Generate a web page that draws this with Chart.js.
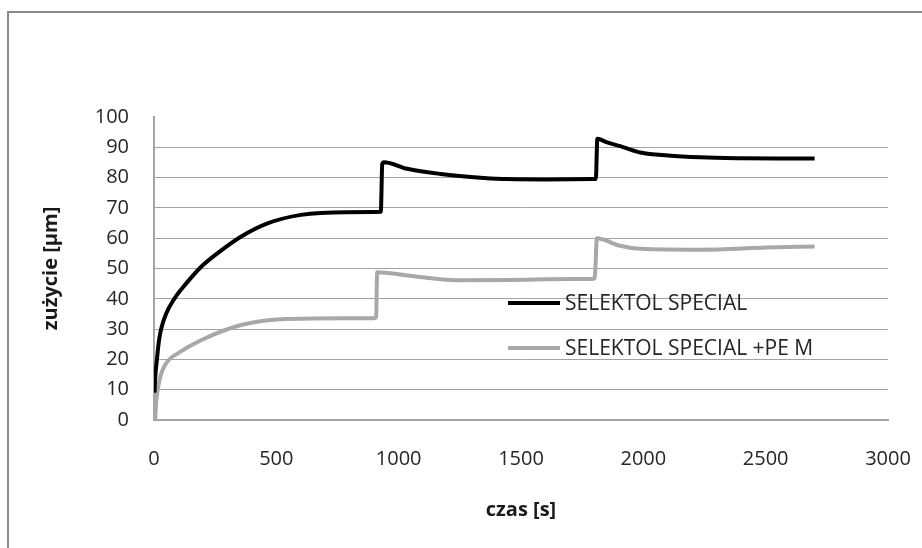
<!DOCTYPE html>
<html>
<head>
<meta charset="utf-8">
<script src="https://cdn.jsdelivr.net/npm/chart.js@4/dist/chart.umd.min.js"></script>
<style>
  body { margin: 0; background: #fff; }
  #wrap { position: relative; width: 922px; height: 548px; overflow: hidden; }
  #frame { position: absolute; left: 7px; top: 11px; width: 1000px; height: 700px; border: 2px solid #8a8a8a; pointer-events: none; }
</style>
</head>
<body>
<div id="wrap">
  <canvas id="myChart" width="922" height="548"></canvas>
  <div id="frame"></div>
</div>
<script>
// czas [s] vs zużycie [µm]
const selektolX = [2, 5, 12, 20, 29, 49, 83, 131, 192, 267, 355, 464, 600, 784, 927,
    933, 940, 1035, 1171, 1348, 1444, 1600, 1797, 1806,
    1812, 1852, 1920, 1988, 2100, 2233, 2400, 2550, 2700];
const selektolY = [9, 14, 20, 26, 30, 35, 40, 45, 50.5, 55.5, 60.5, 64.9, 67.7, 68.6, 68.7,
    84.5, 85.1, 82.9, 81.2, 79.9, 79.5, 79.4, 79.5, 79.6,
    92.8, 91.6, 90, 88.3, 87.3, 86.7, 86.4, 86.3, 86.3];

const pemX = [5, 8, 15, 25, 35, 56, 97, 192, 328, 464, 654, 899,
    908, 912, 1035, 1240, 1450, 1716, 1800,
    1804, 1810, 1900, 1988, 2233, 2505, 2700];
const pemY = [0, 5, 10, 14, 16.5, 19.5, 22, 26.3, 30.7, 32.9, 33.5, 33.6,
    34, 48.8, 47.7, 46.1, 46.2, 46.5, 46.6,
    50, 60, 57.6, 56.5, 56.2, 56.9, 57.3];

const seriesLabels = ['SELEKTOL SPECIAL', 'SELEKTOL SPECIAL +PE M'];
const xTicks = [0, 500, 1000, 1500, 2000, 2500, 3000];
const yTicks = [0, 10, 20, 30, 40, 50, 60, 70, 80, 90, 100];

function toPoints(xs, ys) {
    return xs.map((x, i) => ({ x: x, y: ys[i] }));
}

// legend sits inside the plot, drawn by hand
const insideLegend = {
    id: 'insideLegend',
    afterDatasetsDraw(chart) {
        const ctx = chart.ctx;
        const rows = [303, 348];
        ctx.save();
        chart.data.datasets.forEach((ds, i) => {
            ctx.strokeStyle = ds.borderColor;
            ctx.lineWidth = 4;
            ctx.beginPath();
            ctx.moveTo(508, rows[i]);
            ctx.lineTo(560, rows[i]);
            ctx.stroke();
            ctx.fillStyle = '#262626';
            ctx.font = '21px "Open Sans"';
            ctx.textBaseline = 'middle';
            ctx.fillText(ds.label, 565, rows[i] + 1);
        });
        ctx.restore();
    }
};

const ctx = document.getElementById('myChart').getContext('2d');
const myChart = new Chart(ctx, {
    type: 'scatter',
    data: {
        datasets: [{
            label: seriesLabels[0],
            data: toPoints(selektolX, selektolY),
            showLine: true,
            borderColor: '#000000',
            backgroundColor: '#000000',
            borderWidth: 4,
            pointRadius: 0,
            cubicInterpolationMode: 'monotone'
        }, {
            label: seriesLabels[1],
            data: toPoints(pemX, pemY),
            showLine: true,
            borderColor: '#a8a8a8',
            backgroundColor: '#a8a8a8',
            borderWidth: 4,
            pointRadius: 0,
            cubicInterpolationMode: 'monotone'
        }]
    },
    options: {
        responsive: false,
        animation: false,
        layout: { padding: { left: 0, top: 117, right: 34, bottom: 0 } },
        plugins: {
            legend: { display: false },
            tooltip: { enabled: false }
        },
        scales: {
            x: {
                type: 'linear',
                min: 0,
                max: 3000,
                afterFit: scale => { scale.height = 128; },
                afterBuildTicks: scale => { scale.ticks = xTicks.map(v => ({ value: v })); },
                // invisible tick marks push the labels down without widening the right margin
                grid: { display: true, color: 'rgba(0,0,0,0)', tickColor: 'rgba(0,0,0,0)', drawTicks: true, tickLength: 27 },
                border: { display: true, color: '#a6a6a6', width: 2 },
                ticks: {
                    padding: 0,
                    color: '#262626',
                    font: { family: 'Open Sans', size: 20 },
                    callback: v => String(v)
                },
                title: {
                    display: true,
                    text: 'czas [s]',
                    color: '#1a1a1a',
                    font: { family: 'Open Sans', size: 20, weight: 'bold' },
                    padding: { top: 0, bottom: 26 }
                }
            },
            y: {
                min: 0,
                max: 100,
                afterFit: scale => { scale.width = 154; },
                afterBuildTicks: scale => { scale.ticks = yTicks.map(v => ({ value: v })); },
                grid: {
                    drawTicks: false,
                    color: c => (c.tick.value === 0 || c.tick.value === 100) ? 'rgba(0,0,0,0)' : '#a3a3a3',
                    lineWidth: 1
                },
                border: { display: true, color: '#a6a6a6', width: 2 },
                ticks: {
                    padding: 25,
                    color: '#262626',
                    font: { family: 'Open Sans', size: 20 },
                    callback: v => String(v)
                },
                title: {
                    display: true,
                    text: 'zużycie [µm]',
                    color: '#1a1a1a',
                    font: { family: 'Open Sans', size: 20, weight: 'bold' },
                    padding: { top: 39, bottom: 0 }
                }
            }
        }
    },
    plugins: [insideLegend]
});
</script>
</body>
</html>
